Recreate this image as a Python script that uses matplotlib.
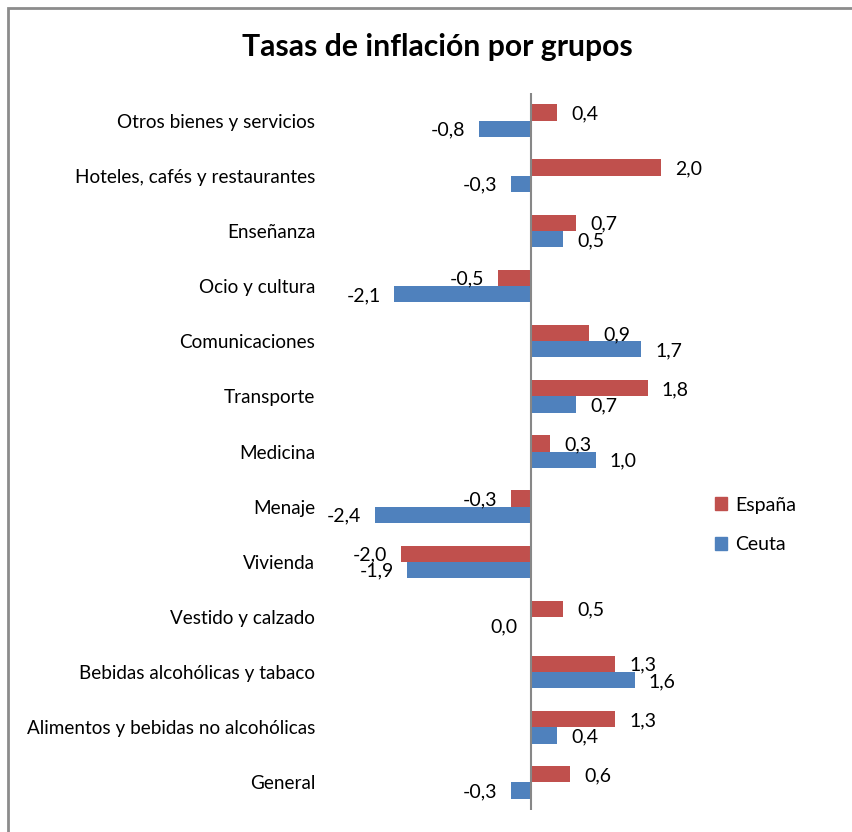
import matplotlib
matplotlib.use("Agg")
import matplotlib.pyplot as plt
from matplotlib.patches import Rectangle, Patch
import numpy as np

categories = ["Otros bienes y servicios", "Hoteles, cafés y restaurantes", "Enseñanza",
              "Ocio y cultura", "Comunicaciones", "Transporte", "Medicina", "Menaje",
              "Vivienda", "Vestido y calzado", "Bebidas alcohólicas y tabaco",
              "Alimentos y bebidas no alcohólicas", "General"]
espana = [0.4, 2.0, 0.7, -0.5, 0.9, 1.8, 0.3, -0.3, -2.0, 0.5, 1.3, 1.3, 0.6]
ceuta = [-0.8, -0.3, 0.5, -2.1, 1.7, 0.7, 1.0, -2.4, -1.9, 0.0, 1.6, 0.4, -0.3]
series_names = ["España", "Ceuta"]
colors = ["#C0504D", "#4F81BD"]

plt.rcParams['font.family'] = ['Lato', 'DejaVu Sans']

W, H = 853, 832
fig = plt.figure(figsize=(W/100, H/100), dpi=100)
ax = fig.add_axes([336/W, 1-810/H, (726-336)/W, (810-93)/H])

n = len(categories)
y = np.arange(n)
bh = 0.295
ax.barh(y - bh/2, espana, height=bh, color=colors[0], label=series_names[0])
ax.barh(y + bh/2, ceuta, height=bh, color=colors[1], label=series_names[1])

def fmt(v):
    return f"{v:.1f}".replace(".", ",")

for vals, off in ((espana, -bh/2), (ceuta, bh/2)):
    for i, v in enumerate(vals):
        if v > 0:
            ax.annotate(fmt(v), (v, i + off), xytext=(10, -1), textcoords="offset points",
                        ha="left", va="center", fontsize=14)
        else:
            ax.annotate(fmt(v), (v, i + off), xytext=(-10, -1), textcoords="offset points",
                        ha="right", va="center", fontsize=14)

ax.set_xlim(-3, 3)
ax.set_ylim(n - 0.5, -0.5)
ax.set_yticks(y)
ax.set_yticklabels(categories, fontsize=13.6)
ax.tick_params(axis="y", length=0, pad=15)
ax.set_xticks([])
for s in ["top", "right", "bottom", "left"]:
    ax.spines[s].set_visible(False)
ax.axvline(0, color="#878787", lw=1.5)

fig.text(437/W, 1-47/H, "Tasas de inflación por grupos", ha="center", va="center",
         fontsize=21.7, fontweight="bold")

handles = [Patch(color=c) for c in colors]
fig.legend(handles, series_names, loc="upper left", bbox_to_anchor=(697/W, 1-479/H),
           frameon=False, fontsize=14, handlelength=0.65, handleheight=0.65,
           handletextpad=0.4, labelspacing=1.15)

fig.patches.append(Rectangle((8/W, -0.1), 1.2, 1 - 8/H + 0.1, transform=fig.transFigure,
                             fill=False, edgecolor="#8c8c8c", lw=2))

fig.savefig("out.png", dpi=100)
